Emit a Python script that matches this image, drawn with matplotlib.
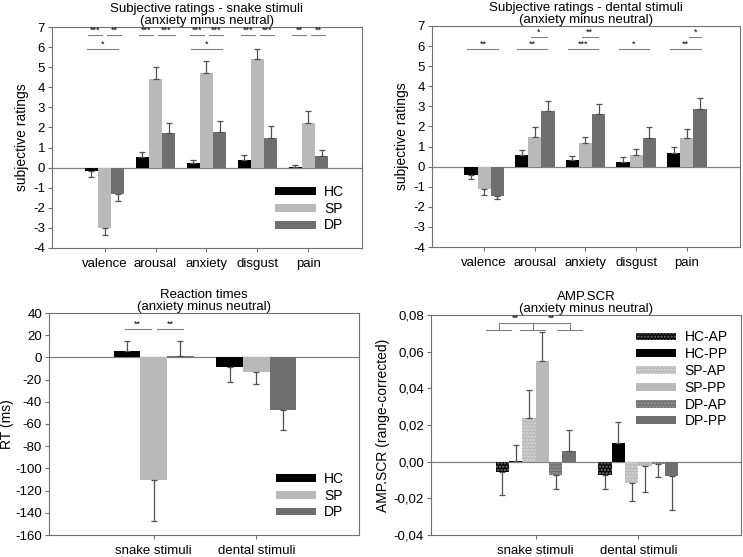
import numpy as np
import matplotlib
matplotlib.use('Agg')
import matplotlib.pyplot as plt

plt.rcParams['font.family'] = ['Liberation Sans', 'DejaVu Sans']
plt.rcParams['font.size'] = 8
plt.rcParams['hatch.linewidth'] = 1.2
plt.rcParams['axes.unicode_minus'] = False

# Daten
rating_cats = ['valence', 'arousal', 'anxiety', 'disgust', 'pain']
groups = ['HC', 'SP', 'DP']

snake_vals = {
    'HC': [-0.15, 0.55, 0.25, 0.4, 0.05],
    'SP': [-3.0, 4.4, 4.7, 5.4, 2.2],
    'DP': [-1.3, 1.7, 1.75, 1.5, 0.6],
}
snake_err = {
    'HC': [0.3, 0.25, 0.15, 0.25, 0.07],
    'SP': [0.35, 0.6, 0.6, 0.5, 0.6],
    'DP': [0.35, 0.5, 0.55, 0.55, 0.28],
}

dental_vals = {
    'HC': [-0.4, 0.6, 0.35, 0.25, 0.7],
    'SP': [-1.1, 1.5, 1.2, 0.6, 1.45],
    'DP': [-1.45, 2.75, 2.6, 1.45, 2.85],
}
dental_err = {
    'HC': [0.22, 0.22, 0.2, 0.25, 0.3],
    'SP': [0.3, 0.45, 0.3, 0.28, 0.4],
    'DP': [0.15, 0.5, 0.5, 0.5, 0.55],
}

stim_cats = ['snake stimuli', 'dental stimuli']
rt_vals = {'HC': [6, -9], 'SP': [-110, -13], 'DP': [1.5, -47]}
rt_err = {'HC': [9, 13], 'SP': [37, 11], 'DP': [13, 18]}

scr_groups = ['HC-AP', 'HC-PP', 'SP-AP', 'SP-PP', 'DP-AP', 'DP-PP']
scr_vals = {
    'HC-AP': [-0.0055, -0.0075],
    'HC-PP': [0.0005, 0.010],
    'SP-AP': [0.024, -0.0115],
    'SP-PP': [0.055, -0.0025],
    'DP-AP': [-0.0075, -0.0015],
    'DP-PP': [0.006, -0.008],
}
scr_err = {
    'HC-AP': [0.0125, 0.0075],
    'HC-PP': [0.0085, 0.0115],
    'SP-AP': [0.015, 0.010],
    'SP-PP': [0.0155, 0.014],
    'DP-AP': [0.0075, 0.007],
    'DP-PP': [0.011, 0.0185],
}

# Signifikanzen: (Kategorie, von, bis, Hoehe, Sterne)
snake_sig = [
    (0, -0.33, -0.04, 6.58, '***'), (0, 0.04, 0.33, 6.58, '**'), (0, -0.35, 0.27, 5.9, '*'),
    (1, -0.33, -0.04, 6.58, '***'), (1, 0.04, 0.38, 6.58, '***'),
    (2, -0.33, -0.04, 6.58, '***'), (2, 0.04, 0.33, 6.58, '***'), (2, -0.31, 0.3, 5.9, '*'),
    (3, -0.33, -0.04, 6.58, '***'), (3, 0.04, 0.33, 6.58, '***'),
    (4, -0.33, -0.04, 6.58, '**'), (4, 0.04, 0.33, 6.58, '**'),
]
dental_sig = [
    (0, -0.33, 0.28, 5.87, '**'),
    (1, -0.08, 0.24, 6.45, '*'), (1, -0.35, 0.24, 5.87, '**'),
    (2, -0.07, 0.24, 6.45, '**'), (2, -0.35, 0.24, 5.87, '***'),
    (3, -0.34, 0.25, 5.87, '*'),
    (4, 0.05, 0.28, 6.45, '*'), (4, -0.33, 0.28, 5.87, '**'),
]
rt_sig = [(0, -0.28, -0.03, 25.5, '**'), (0, 0.03, 0.29, 25.5, '**')]

colors = {'HC': '#000000', 'SP': '#b9b9b9', 'DP': '#6f6f6f'}
frame_col = '#707070'
err_col = '#505050'


def style_axes(ax, cats, ylim, yticks, ylabel, title):
    ax.set_xlim(-1.03, len(cats) - 1 + 1.05)
    ax.set_ylim(*ylim)
    ax.set_yticks(yticks)
    ax.set_xticks(range(len(cats)))
    ax.set_xticklabels(cats, fontsize=9.5)
    ax.tick_params(axis='y', labelsize=9.5, direction='out', length=3, color=frame_col, pad=2)
    ax.tick_params(axis='x', direction='out', length=3, color=frame_col, pad=4)
    for s in ax.spines.values():
        s.set_color(frame_col)
        s.set_linewidth(0.8)
    ax.axhline(0, color='#808080', lw=0.9, zorder=1)
    ax.set_ylabel(ylabel, fontsize=10, labelpad=3)
    ax.set_title(title, fontsize=9.5, pad=2, linespacing=1.0)


def hatch_col(c):
    return {'#000000': '#707070', '#b9b9b9': '#d8d8d8', '#6f6f6f': '#9a9a9a'}[c]


def draw_bars(ax, names, vals, errs, width, cols, hatches=None):
    n = len(names)
    ncat = len(vals[names[0]])
    x = np.arange(ncat)
    for i, g in enumerate(names):
        off = (i - (n - 1) / 2) * width
        v = np.array(vals[g])
        e = np.array(errs[g])
        if hatches and hatches[i]:
            kw = dict(hatch=hatches[i], edgecolor=hatch_col(cols[i]), linewidth=0)
        else:
            kw = dict(linewidth=0)
        ax.bar(x + off, v, width, color=cols[i], label=g, zorder=2, **kw)
        lower = np.where(v < 0, e, 0)
        upper = np.where(v >= 0, e, 0)
        ax.errorbar(x + off, v, yerr=[lower, upper], fmt='none', ecolor=err_col,
                    elinewidth=0.9, capsize=2.5, capthick=0.9, zorder=3)


def draw_sig(ax, sig, dy):
    for cat, a, b, y, txt in sig:
        ax.plot([cat + a, cat + b], [y, y], color='#808080', lw=0.8, zorder=4)
        ax.text(cat + (a + b) / 2, y + dy, txt, ha='center', va='bottom', fontsize=6.5)


leg_kw = dict(frameon=False, fontsize=10, handlelength=2.9, handleheight=0.5,
              labelspacing=0.2, handletextpad=0.6, borderaxespad=0)

fig = plt.figure(figsize=(7.43, 5.57), dpi=100)

# oben links
ax1 = fig.add_axes([52 / 743, 1 - 248 / 557, 310 / 743, 221 / 557])
draw_bars(ax1, groups, snake_vals, snake_err, 0.26, [colors[g] for g in groups])
style_axes(ax1, rating_cats, (-4, 7), range(-4, 8), 'subjective ratings',
           'Subjective ratings - snake stimuli\n(anxiety minus neutral)')
draw_sig(ax1, snake_sig, 0.02)
ax1.legend(loc='lower right', bbox_to_anchor=(0.96, 0.045), **leg_kw)

# oben rechts
ax2 = fig.add_axes([432 / 743, 1 - 247 / 557, 308 / 743, 221 / 557])
draw_bars(ax2, groups, dental_vals, dental_err, 0.26, [colors[g] for g in groups])
style_axes(ax2, rating_cats, (-4, 7), range(-4, 8), 'subjective ratings',
           'Subjective ratings - dental stimuli\n(anxiety minus neutral)')
draw_sig(ax2, dental_sig, 0.02)

# unten links
ax3 = fig.add_axes([49 / 743, 1 - 535 / 557, 310 / 743, 222 / 557])
draw_bars(ax3, groups, rt_vals, rt_err, 0.26, [colors[g] for g in groups])
style_axes(ax3, stim_cats, (-160, 40), range(-160, 41, 20), 'RT (ms)',
           'Reaction times\n(anxiety minus neutral)')
ax3.set_xlim(-1.02, 2.0)
ax3.yaxis.labelpad = 1
draw_sig(ax3, rt_sig, 0.4)
ax3.legend(loc='lower right', bbox_to_anchor=(0.97, 0.045), **leg_kw)

# unten rechts
ax4 = fig.add_axes([431 / 743, 1 - 535 / 557, 310 / 743, 220 / 557])
scr_cols = [colors[g.split('-')[0]] for g in scr_groups]
scr_hatch = ['.....' if g.endswith('AP') else None for g in scr_groups]
draw_bars(ax4, scr_groups, scr_vals, scr_err, 0.13, scr_cols, scr_hatch)
style_axes(ax4, stim_cats, (-0.04, 0.08), np.arange(-0.04, 0.081, 0.02),
           'AMP.SCR (range-corrected)', 'AMP.SCR\n(anxiety minus neutral)')
ax4.set_xlim(-1.02, 2.0)
ax4.set_yticklabels([f'{t:.2f}'.replace('.', ',') for t in np.arange(-0.04, 0.081, 0.02)])

# Klammern SCR
for c in [-0.36, -0.03, 0.33]:
    ax4.plot([c - 0.12, c + 0.12], [0.072, 0.072], color='#808080', lw=0.8)
    ax4.plot([c, c], [0.072, 0.0758], color='#808080', lw=0.8)
for a, b in [(-0.36, -0.03), (-0.03, 0.33)]:
    ax4.plot([a, b], [0.0758, 0.0758], color='#808080', lw=0.8)
    ax4.text((a + b) / 2, 0.0758, '**', ha='center', va='bottom', fontsize=6.5)
ax4.legend(loc='upper right', bbox_to_anchor=(0.975, 0.955), **leg_kw)

fig.savefig('out.png', dpi=100)
